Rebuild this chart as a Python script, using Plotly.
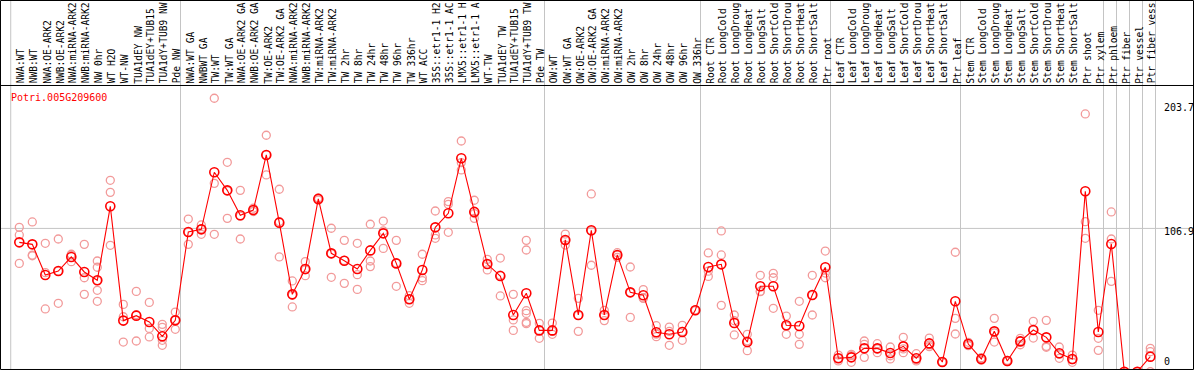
import plotly.graph_objects as go

labels = [
    "NWA:WT", "NWB:WT", "NWA:OE-ARK2", "NWB:OE-ARK2", "NWA:miRNA-ARK2", "NWB:miRNA-ARK2",
    "NW 0hr", "WT H2O", "WT-NW", "TUA1dEY NW", "TUA1dEY+TUB15", "TUA1dY+TUB9 NW", "Pde NW",
    "NWA:WT GA", "NWBWT GA", "TW:WT", "TW:WT GA", "NWA:OE-ARK2 GA", "NWB:OE-ARK2 GA",
    "TW:OE-ARK2", "TW:OE-ARK2 GA", "NWA:miRNA-ARK2", "NWB:miRNA-ARK2", "TW:miRNA-ARK2",
    "TW:miRNA-ARK2 ", "TW 2hr", "TW 8hr", "TW 24hr", "TW 48hr", "TW 96hr", "TW 336hr",
    "WT ACC", "35S::etr1-1 H2", "35S::etr1-1 AC", "LMX5::etr1-1 H", "LMX5::etr1-1 A",
    "WT-TW", "TUA1dEY TW", "TUA1dEY+TUB15", "TUA1dY+TUB9 TW", "Pde TW",
    "OW:WT", "OW:WT GA", "OW:OE-ARK2", "OW:OE-ARK2 GA", "OW:miRNA-ARK2", "OW:miRNA-ARK2 ",
    "OW 2hr", "OW 8hr", "OW 24hr", "OW 48hr", "OW 96hr", "OW 336hr",
    "Root CTR", "Root LongCold", "Root LongDroug", "Root LongHeat", "Root LongSalt",
    "Root ShortCold", "Root ShortDrou", "Root ShortHeat", "Root ShortSalt", "Ptr root",
    "Leaf CTR", "Leaf LongCold", "Leaf LongDroug", "Leaf LongHeat", "Leaf LongSalt",
    "Leaf ShortCold", "Leaf ShortDrou", "Leaf ShortHeat", "Leaf ShortSalt", "Ptr leaf",
    "Stem CTR", "Stem LongCold", "Stem LongDroug", "Stem LongHeat", "Stem LongSalt",
    "Stem ShortCold", "Stem ShortDrou", "Stem ShortHeat", "Stem ShortSalt", "Ptr shoot",
    "Ptr xylem", "Ptr phloem", "Ptr fiber", "Ptr vessel", "Ptr fiber vess",
]

means = [
    96.5, 95, 72.1, 75.1, 85.6, 74.4, 68.2, 123.4, 38.1, 41.8, 37.1, 26.4, 38.3,
    104.2, 106.2, 148.8, 135.3, 116.7, 120.6, 161.7, 111.2, 57.7, 76.6, 128.9, 88.3,
    82.8, 76.6, 90.5, 103.2, 80.8, 54, 75.9, 107.7, 118.2, 159.2, 119.2, 80.3, 71.4,
    42.3, 58.5, 30.8,
    30.8, 98.3, 42.3, 105.5, 42.3, 87.1, 59.2, 57, 29.4, 27.9, 29.6, 45.8,
    78.1, 80.1, 36.3, 22.1, 63.7, 63.7, 34.6, 34.1, 57.2, 77.9,
    10, 10.7, 17.4, 17.4, 13.9, 18.9, 10, 21.1, 7.2, 52.5,
    20.6, 9.5, 30.1, 8, 22.6, 31.1, 25.6, 13.7, 9.5, 134.6, 29.6,
    95.3, 0, 0, 11.2,
]

replicates = [
    [107.7, 102, 80.8], [111.7, 86.5, 87], [95.8, 73.9, 46.8], [99, 51, 75],
    [87.6, 82.1, 87], [95, 70.1, 57.7], [82.6, 77.9, 60.7, 52.5, 68],
    [142.8, 133.8, 94.3], [50.2, 41, 22.1], [59.9, 22.9, 42.6], [51.7, 32.3, 25.9],
    [35.3, 33.1, 23.4, 19.7], [44.5, 31.6, 38.5],
    [113.9, 95, 104], [109.5, 102.5, 106.5], [204, 140.5, 102.5], [156.2, 114.4, 135],
    [135.3, 99, 116], [122, 119.5, 120.5], [176.4, 146.8, 161.7], [136.1, 85.6, 112],
    [67.7, 48.3, 57], [82.1, 71.6, 76], [129.5, 128, 129.5], [107, 70.4, 88],
    [98, 65.9, 83], [95.8, 72.4, 61.4], [110, 82.6, 78.4], [112.4, 92, 105],
    [98, 63.7, 81], [56.7, 51, 54], [87.6, 70.1, 67.9], [119.9, 102, 99.5],
    [126.9, 124.9, 104], [172.1, 150.5, 156], [127.9, 114.4, 118], [83.8, 75.9, 80],
    [84.8, 56.5, 72], [57.7, 38.6, 30.8], [98, 90.8, 45.5, 43.5, 36.8, 35.8],
    [36.1, 24.9, 31],
    [36.3, 27.9, 30], [102.7, 94.5, 98], [54.7, 30.1, 42], [132.6, 79.4, 105],
    [45.8, 38.1, 42], [88.8, 85.3, 87], [78.1, 40.5, 59], [61.2, 54.7, 55],
    [34.3, 26.1, 28], [33.3, 19.7, 30], [34.6, 23.4, 30], [46, 45.5, 46],
    [88.6, 71.1, 75], [105, 87.1, 49.5], [42.3, 27.4, 38], [27.9, 15.7, 23],
    [71.9, 59.7, 60], [73.4, 70.1, 47.3], [41.5, 27.9, 34], [52.5, 27.9, 20.4],
    [71.9, 42.3, 57], [90, 70.1, 73.6],
    [12.4, 8, 10], [12.9, 7, 12], [22.9, 20.4, 10.7], [20.9, 14.2, 17],
    [18.4, 11.9, 9.5], [25.6, 14.2, 17], [13.4, 8, 9], [25.1, 18.7, 20],
    [7.5, 7, 7], [89.1, 39.8, 28.1],
    [21.9, 19.4, 20], [10.4, 8.5, 9.5], [39.8, 22.1, 29], [8.5, 7.5, 8],
    [24.9, 20.1, 23], [37.6, 25.1, 31], [38.3, 18.9, 18.2], [18.4, 10, 13],
    [12.4, 7, 9], [192.3, 111.9, 99.5], [45.8, 24.9, 15.9],
    [119.2, 99, 67.4], [0, 0, 0], [0, 0, 0], [17.4, 14.9, 0],
]

# index of last sample in each group (group separators)
group_ends = [12, 40, 52, 62, 72, 83, 84, 85, 86, 87]
axis_labels = ["203.7", "106.9", "0"]
axis_values = [203.7, 106.9, 0]
title = "Potri.005G209600"

FONT = "DejaVu Sans Mono"
x_idx = list(range(len(labels)))

rep_x, rep_y = [], []
for i, reps in enumerate(replicates):
    for v in reps:
        rep_x.append(i)
        rep_y.append(v)

fig = go.Figure()
fig.add_trace(go.Scatter(
    x=rep_x, y=rep_y, mode="markers",
    marker=dict(symbol="circle-open", size=8, color="#f29a9a", line=dict(width=1.3, color="#f29a9a")),
    hoverinfo="skip", showlegend=False,
))
fig.add_trace(go.Scatter(
    x=x_idx, y=means, mode="lines+markers",
    line=dict(color="#ff0000", width=1.1),
    marker=dict(symbol="circle-open", size=9, color="#ff0000", line=dict(width=1.6, color="#ff0000")),
    text=labels, showlegend=False,
))

shapes = []
GRID = "#c4c4c4"
# left boundary gridline + group separators
for gx in [-0.66] + [g + 0.4 for g in group_ends]:
    shapes.append(dict(type="line", xref="x", yref="paper", x0=gx, x1=gx, y0=0, y1=1.3,
                       line=dict(color=GRID, width=1), layer="below"))
shapes.append(dict(type="line", xref="paper", yref="y", x0=0, x1=1, y0=axis_values[1], y1=axis_values[1],
                   line=dict(color=GRID, width=1), layer="below"))
# frames
shapes.append(dict(type="rect", xref="paper", yref="paper", x0=-0.00042, x1=1.00042,
                   y0=-0.00176, y1=1.2975, line=dict(color="black", width=1)))
shapes.append(dict(type="line", xref="paper", yref="paper", x0=-0.001, x1=1.001,
                   y0=0.99824, y1=0.99824, line=dict(color="black", width=1)))

annotations = []
for i, lab in enumerate(labels):
    annotations.append(dict(x=i, y=1.0018, xref="x", yref="paper", text=lab, textangle=-90,
                            showarrow=False, xanchor="center", yanchor="bottom", xshift=2,
                            borderpad=0,
                            font=dict(family=FONT, size=9.6, color="black")))
annotations.append(dict(x=0.0068, y=0.9577, xref="paper", yref="paper", text=title,
                        showarrow=False, xanchor="left", yanchor="middle",
                        font=dict(family=FONT, size=10, color="#ff0000")))
label_y = [0.9225, 0.4835, 0.0257]
for t, yy in zip(axis_labels, label_y):
    annotations.append(dict(x=0.974, y=yy, xref="paper", yref="paper", text=t,
                            showarrow=False, xanchor="left", yanchor="middle",
                            font=dict(family=FONT, size=10, color="black")))

fig.update_layout(
    width=1194, height=370,
    margin=dict(l=1, r=1, t=85, b=1, pad=0),
    paper_bgcolor="white", plot_bgcolor="white",
    xaxis=dict(range=[-1.408, 90.285], showgrid=False, zeroline=False, showticklabels=False,
               ticks="", showline=False, fixedrange=True),
    yaxis=dict(range=[2.0, 213.9], showgrid=False, zeroline=False, showticklabels=False,
               ticks="", showline=False, fixedrange=True),
    shapes=shapes, annotations=annotations,
    showlegend=False,
)

fig.write_html(
    "out.html",
    config={"displayModeBar": False},
    post_script="document.body.style.margin='0';document.body.style.overflow='hidden';",
)
